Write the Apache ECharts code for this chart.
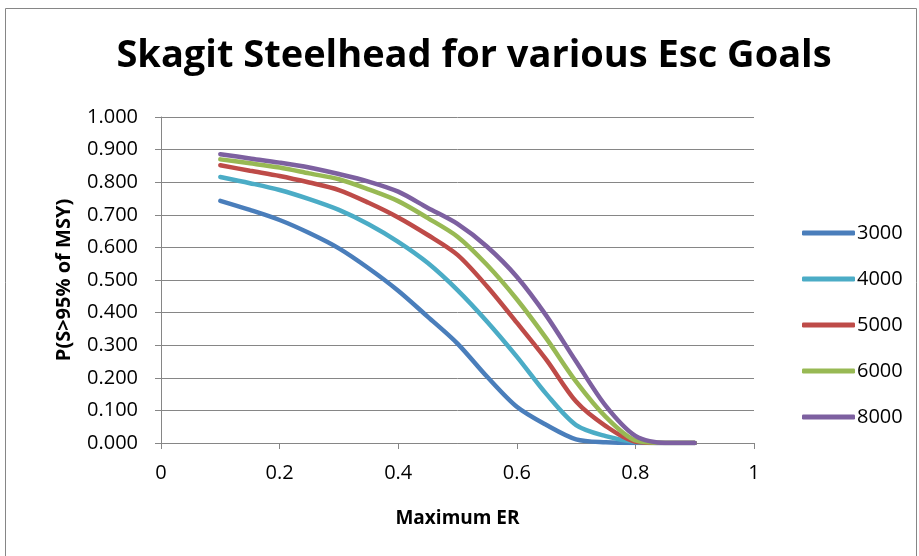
<!DOCTYPE html>
<html><head><meta charset="utf-8">
<script src="https://cdn.jsdelivr.net/npm/echarts@6/dist/echarts.min.js"></script>
<style>html,body{margin:0;padding:0;background:#fff}#c{width:919px;height:556px}</style>
</head><body><div id="c"></div>
<script>
var maxER = [0.1,0.15,0.2,0.25,0.3,0.35,0.4,0.45,0.5,0.55,0.6,0.65,0.7,0.75,0.8,0.85,0.9];
var s3000 = [0.743,0.715,0.684,0.644,0.597,0.536,0.467,0.387,0.305,0.203,0.111,0.055,0.011,0.002,0,0,0];
var s4000 = [0.816,0.797,0.776,0.748,0.715,0.671,0.617,0.552,0.469,0.372,0.265,0.150,0.055,0.021,0.003,0,0];
var s5000 = [0.852,0.835,0.819,0.799,0.776,0.737,0.692,0.638,0.577,0.480,0.369,0.255,0.127,0.052,0.004,0,0];
var s6000 = [0.870,0.858,0.845,0.827,0.809,0.778,0.742,0.690,0.633,0.546,0.441,0.320,0.188,0.080,0.008,0,0];
var s8000 = [0.886,0.873,0.860,0.845,0.825,0.802,0.771,0.721,0.672,0.602,0.510,0.390,0.250,0.114,0.022,0,0];
var seriesNames = ['3000','4000','5000','6000','8000'];
var seriesData = [s3000,s4000,s5000,s6000,s8000];
var colors = ['#4A7EBB','#4BACC6','#BE4B48','#98B954','#7D60A0'];

var font = '"Open Sans", Lato, sans-serif';
var chart = echarts.init(document.getElementById('c'));
chart.setOption({
  animation:false,
  color: colors,
  title:{text:'Skagit Steelhead for various Esc Goals', left:469, top:32, textAlign:'center',
    textStyle:{fontFamily:font,fontSize:38,fontWeight:'bold',color:'#000'}},
  graphic:[{type:'rect',shape:{x:5.5,y:8.5,width:911,height:560},style:{fill:null,stroke:'#868686',lineWidth:1},silent:true}],
  legend:{orient:'vertical', left:797, top:218, itemGap:26, itemWidth:53, itemHeight:5, icon:'roundRect',
    textStyle:{fontFamily:font,fontSize:20,color:'#000',padding:[0,0,0,-3]},
    data:seriesNames},
  grid:{left:161,right:165,top:117,bottom:113},
  xAxis:{type:'value',min:0,max:1,interval:0.2,
    name:'Maximum ER',nameLocation:'middle',nameGap:66,
    nameTextStyle:{fontFamily:font,fontSize:19,fontWeight:'bold',color:'#000'},
    axisLine:{lineStyle:{color:'#868686'}},axisTick:{show:true,length:6,lineStyle:{color:'#868686'}},
    splitLine:{show:false},
    axisLabel:{fontFamily:font,fontSize:20,color:'#000',margin:20,formatter:function(v){return String(Math.round(v*10)/10);}}},
  yAxis:{type:'value',min:0,max:1,interval:0.1,
    name:'P(S>95% of MSY)',nameLocation:'middle',nameGap:87,
    nameTextStyle:{fontFamily:font,fontSize:20,fontWeight:'bold',color:'#000'},
    axisLine:{show:true,lineStyle:{color:'#868686'}},axisTick:{show:true,length:6,lineStyle:{color:'#868686'}},
    splitLine:{lineStyle:{color:'#868686',width:1}},
    axisLabel:{fontFamily:font,fontSize:20,color:'#000',margin:23,formatter:function(v){return v.toFixed(3);}}},
  series: seriesNames.map(function(n,i){
    return {name:n,type:'line',smooth:0.3,symbol:'none',
      lineStyle:{width:4.5,color:colors[i],cap:'round'},
      data: maxER.map(function(x,j){return [x, seriesData[i][j]];})};
  })
});
</script></body></html>
